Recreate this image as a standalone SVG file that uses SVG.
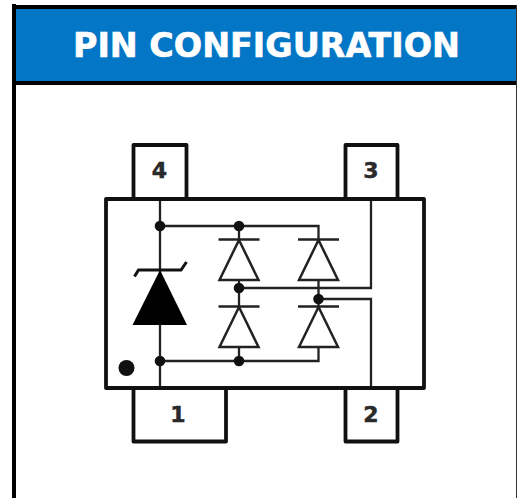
<svg xmlns="http://www.w3.org/2000/svg" width="517" height="498" viewBox="0 0 517 498">
<style>
.body{fill:none;stroke:#111;stroke-width:3.8;stroke-linejoin:round}
.w{fill:none;stroke:#222;stroke-width:2.3;stroke-linejoin:miter}
.d{fill:#fff;stroke:#222;stroke-width:2.5;stroke-linejoin:miter}
.dot{fill:#111;stroke:none}
.pin{font-family:"DejaVu Sans",Verdana,sans-serif;font-weight:700;font-size:22px;fill:#2a2a2a;stroke:#2a2a2a;stroke-width:.5;text-anchor:middle}
</style>
<rect width="517" height="498" fill="#fff"/>
<g id="frame">
<rect x="16" y="9" width="500" height="72" fill="#0476c6"/>
<rect x="12" y="4" width="4" height="494" fill="#000"/>
<rect x="12" y="5" width="505" height="4" fill="#000"/>
<rect x="12" y="81" width="505" height="4" fill="#000"/>
<rect x="516" y="5" width="1" height="493" fill="#333"/>
<text id="title" x="266.5" y="57" font-family="'DejaVu Sans',Verdana,sans-serif" font-weight="700" font-size="33" fill="#fff" stroke="#fff" stroke-width=".6" text-anchor="middle" textLength="387" lengthAdjust="spacingAndGlyphs">PIN CONFIGURATION</text>
</g>
<g id="connectors">
<path class="w" d="M160 199V388"/>
<path class="w" d="M160 226H318.5V240"/>
<path class="w" d="M239 226V240"/>
<path class="w" d="M239 280V307"/>
<path class="w" d="M239 288H371V199"/>
<path class="w" d="M318.5 280V307"/>
<path class="w" d="M318.5 299H371V388"/>
<path class="w" d="M239 347V361"/>
<path class="w" d="M160 361H318.5V347"/>
</g>
<g id="package"><rect class="body" x="106" y="199" width="318" height="189"/></g>
<g id="pin-4"><path class="body" d="M133.5 199V145H186.5V199"/><text class="pin" x="159.5" y="178">4</text></g>
<g id="pin-3"><path class="body" d="M345.5 199V145H397.5V199"/><text class="pin" x="371" y="178">3</text></g>
<g id="pin-1"><path class="body" d="M133.5 388V441.5H226V388"/><text class="pin" x="178" y="421.5">1</text></g>
<g id="pin-2"><path class="body" d="M345.5 388V441.5H397.5V388"/><text class="pin" x="371" y="421.5">2</text></g>
<g id="tvs">
<path d="M160 270L187 325H132.5Z" fill="#000"/>
<path d="M134.5 276.5L138.5 270H181L186.5 262" fill="none" stroke="#111" stroke-width="3"/>
</g>
<g id="diode-upper-left"><path class="d" d="M239 240L258.5 280H219.5Z"/><path class="w" d="M218.5 239.5H259.5"/></g>
<g id="diode-upper-right"><path class="d" d="M318.5 240L338 280H299Z"/><path class="w" d="M298 239.5H339"/></g>
<g id="diode-lower-left"><path class="d" d="M239 307L258.5 347H219.5Z"/><path class="w" d="M218.5 306.5H259.5"/></g>
<g id="diode-lower-right"><path class="d" d="M318.5 307L338 347H299Z"/><path class="w" d="M298 306.5H339"/></g>
<g id="junctions">
<circle class="dot" cx="160" cy="226" r="5.3"/>
<circle class="dot" cx="239" cy="226" r="5.3"/>
<circle class="dot" cx="239" cy="288" r="5.3"/>
<circle class="dot" cx="318.5" cy="299" r="5.3"/>
<circle class="dot" cx="160" cy="361" r="5.3"/>
<circle class="dot" cx="239" cy="361" r="5.3"/>
</g>
<g id="pin1-mark"><circle class="dot" cx="126.5" cy="368" r="8"/></g>
</svg>
